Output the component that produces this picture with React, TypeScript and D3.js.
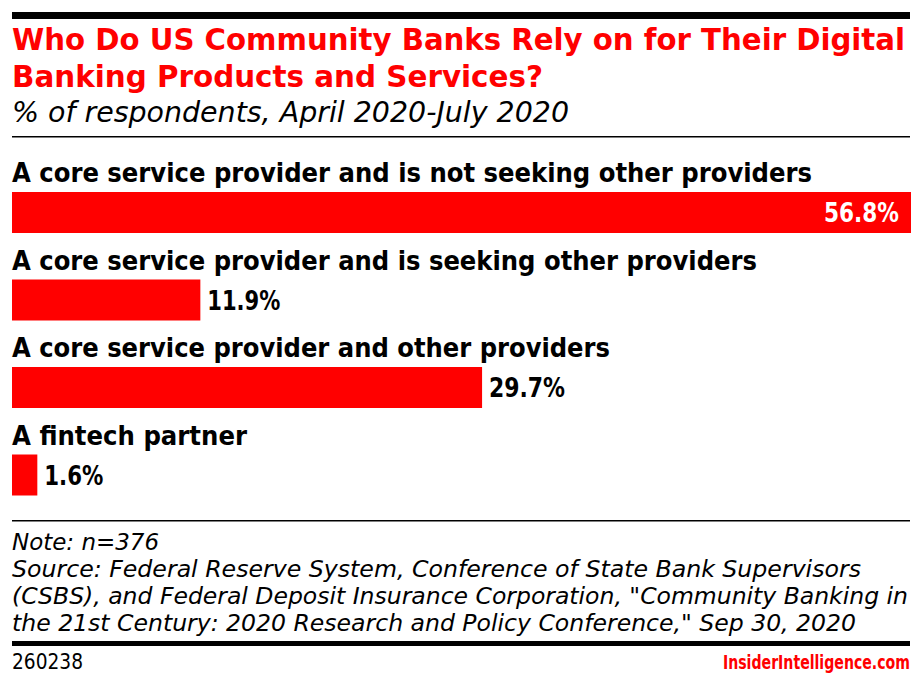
import React, { useLayoutEffect, useRef, useState } from "react";
import * as d3 from "d3";

const categories = [
  "A core service provider and is not seeking other providers",
  "A core service provider and is seeking other providers",
  "A core service provider and other providers",
  "A fintech partner",
];
const values = [56.8, 11.9, 29.7, 1.6];
const valueLabels = ["56.8%", "11.9%", "29.7%", "1.6%"];
const labelWidths = [800, 745, 598, 235];
const valueWidths = [75, 73, 76, 59];

const titleLines = [
  "Who Do US Community Banks Rely on for Their Digital",
  "Banking Products and Services?",
];
const titleWidths = [893, 531];
const subtitle = "% of respondents, April 2020-July 2020";
const noteLines = [
  "Note: n=376",
  "Source: Federal Reserve System, Conference of State Bank Supervisors",
  "(CSBS), and Federal Deposit Insurance Corporation, \"Community Banking in",
  "the 21st Century: 2020 Research and Policy Conference,\" Sep 30, 2020",
];
const noteWidths = [147, 849, 896, 844];
const chartId = "260238";
const brand = "InsiderIntelligence.com";

const RED = "#ff0000";
const FONT = "'DejaVu Sans Condensed', 'DejaVu Sans', sans-serif";

export default function App() {
  const W = 922;
  const H = 686;
  const left = 12;
  const right = 910;
  const brandRef = useRef<SVGTextElement>(null);
  const [brandScale, setBrandScale] = useState(0.7);

  useLayoutEffect(() => {
    if (brandRef.current) {
      const w = brandRef.current.getComputedTextLength();
      if (w > 0) setBrandScale(187 / w);
    }
  }, []);

  const x = d3.scaleLinear().domain([0, d3.max(values) as number]).range([0, right - left + 1]);
  const y = d3.scaleBand<number>().domain(d3.range(categories.length)).range([147, 497]).paddingInner(0);

  return (
    <svg width={W} height={H} style={{ position: "absolute", left: 0, top: 0, background: "#fff" }} fontFamily={FONT}>
      <rect x={left} y={12} width={right - left} height={7} fill="#000" />
      {titleLines.map((t, i) => (
        <text key={i} x={left} y={50 + i * 37} fill={RED} fontSize={31} fontWeight={700}
          textLength={titleWidths[i]} lengthAdjust="spacingAndGlyphs">{t}</text>
      ))}
      <text x={left} y={122} fontSize={28} fontStyle="italic" fill="#000"
        textLength={557} lengthAdjust="spacingAndGlyphs">{subtitle}</text>
      <rect x={left} y={136} width={right - left} height={1.5} fill="#000" />

      {categories.map((c, i) => {
        const top = y(i) as number;
        const barY = top + 45;
        const bw = x(values[i]);
        const inside = i === 0;
        return (
          <g key={i}>
            <text x={left} y={top + 35} fontSize={26} fontWeight={700} fill="#000"
              textLength={labelWidths[i]} lengthAdjust="spacingAndGlyphs">{c}</text>
            <rect x={left} y={barY} width={bw} height={41} fill={RED} />
            <text
              x={inside ? left + bw - 12 : left + bw + 7}
              y={barY + 30}
              fontSize={26}
              fontWeight={700}
              fill={inside ? "#fff" : "#000"}
              textAnchor={inside ? "end" : "start"}
              textLength={valueWidths[i]}
              lengthAdjust="spacingAndGlyphs"
            >
              {valueLabels[i]}
            </text>
          </g>
        );
      })}

      <rect x={left} y={520} width={right - left} height={1.5} fill="#000" />
      {noteLines.map((t, i) => (
        <text key={i} x={left} y={550 + i * 27} fontSize={23} fontStyle="italic" fill="#000"
          textLength={noteWidths[i]} lengthAdjust="spacingAndGlyphs">{t}</text>
      ))}
      <rect x={left} y={641} width={right - left} height={5} fill="#000" />
      <text x={left} y={669} fontSize={22} fill="#000" textLength={71} lengthAdjust="spacingAndGlyphs">{chartId}</text>
      <g transform={`translate(${right},669) scale(${brandScale},1)`}>
        <text ref={brandRef} x={0} y={0} fontSize={20} fontWeight={700} fill={RED} textAnchor="end">{brand}</text>
      </g>
    </svg>
  );
}
